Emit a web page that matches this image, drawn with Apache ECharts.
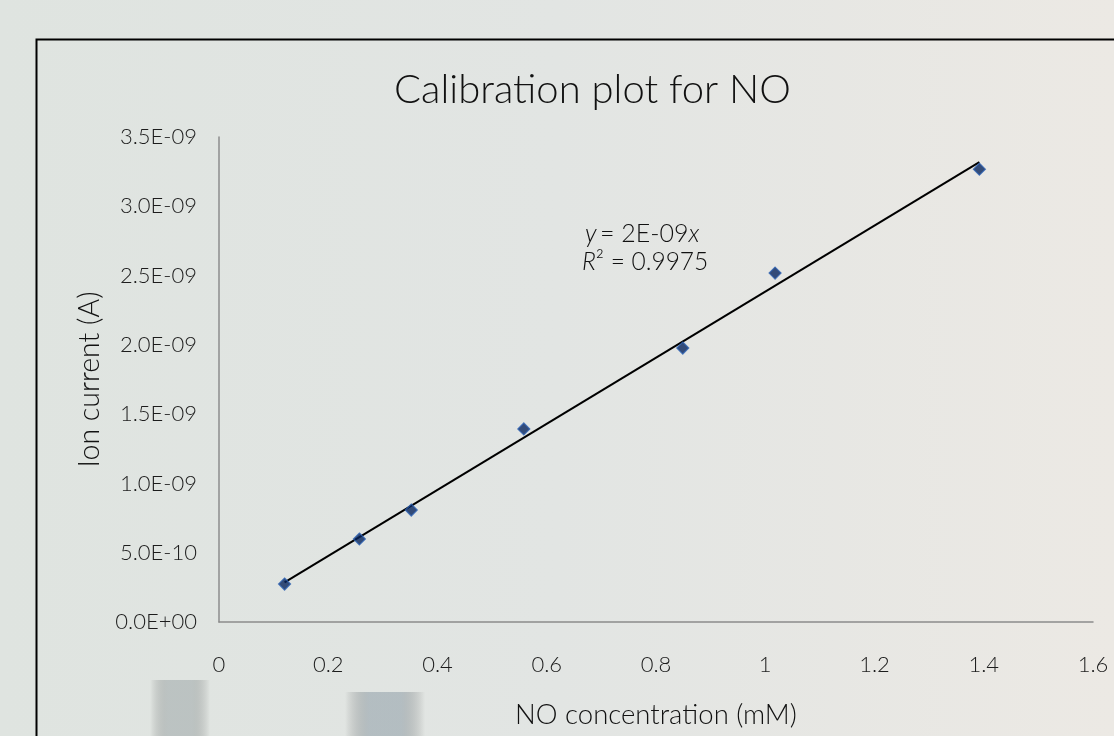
<!DOCTYPE html>
<html><head><meta charset="utf-8">
<script src="https://cdn.jsdelivr.net/npm/echarts@6/dist/echarts.min.js"></script>
<style>html,body{margin:0;padding:0;}#c{width:1114px;height:736px;}</style>
</head><body><div id="c"></div>
<script>
var concentration = [0.120, 0.257, 0.352, 0.558, 0.849, 1.018, 1.392];
var ionCurrent = [2.74e-10, 5.99e-10, 8.08e-10, 1.393e-9, 1.977e-9, 2.518e-9, 3.268e-9];
var xTicks = [0, 0.2, 0.4, 0.6, 0.8, 1, 1.2, 1.4, 1.6];
var yTicks = ['0.0E+00','5.0E-10','1.0E-09','1.5E-09','2.0E-09','2.5E-09','3.0E-09','3.5E-09'];

var points = concentration.map(function(x,i){return [x, ionCurrent[i]];});
// linear trendline through the origin (least squares)
var sxy=0,sxx=0;
for (var i=0;i<points.length;i++){sxy+=points[i][0]*points[i][1];sxx+=points[i][0]*points[i][0];}
var slope=sxy/sxx;
var xmin=Math.min.apply(null,concentration), xmax=Math.max.apply(null,concentration);
var trend=[[xmin,slope*xmin],[xmax,slope*xmax]];

var FONT='Lato';
var TXT='#1c1c1c';
function smudge(x,y,w,h,col){
  return {type:'rect',left:x,top:y,shape:{width:w,height:h},silent:true,z:-2,
    style:{fill:{type:'linear',x:0,y:0,x2:1,y2:0,colorStops:[
      {offset:0,color:'rgba(0,0,0,0)'},{offset:0.3,color:col},{offset:0.7,color:col},{offset:1,color:'rgba(0,0,0,0)'}]}}};
}
var chart=echarts.init(document.getElementById('c'));
chart.setOption({
  backgroundColor:{type:'linear',x:0,y:0,x2:1,y2:0,colorStops:[{offset:0,color:'#dfe4e0'},{offset:0.5,color:'#e2e5e3'},{offset:1,color:'#ece9e4'}]},
  animation:false,
  title:{text:'Calibration plot for NO',top:70,left:394,padding:0,
    textStyle:{fontFamily:FONT,fontWeight:300,fontSize:40,color:'#111'}},
  grid:{left:219,right:21,top:137,bottom:114,containLabel:false},
  xAxis:{type:'value',min:0,max:1.6,interval:0.2,
    axisLine:{lineStyle:{color:'#8c8c8c',width:1.5}},axisTick:{show:false},splitLine:{show:false},
    axisLabel:{margin:32,fontFamily:FONT,fontWeight:300,fontSize:22,color:TXT,
      formatter:function(v){return String(parseFloat(v.toFixed(1)));}},
    name:'NO concentration (mM)',nameLocation:'middle',nameGap:79,
    nameTextStyle:{fontFamily:FONT,fontWeight:300,fontSize:27.5,color:'#111'}},
  yAxis:{type:'value',min:0,max:3.5e-9,interval:5e-10,
    axisLine:{show:true,lineStyle:{color:'#8c8c8c',width:1.5}},axisTick:{show:false},splitLine:{show:false},
    axisLabel:{margin:22,fontFamily:FONT,fontWeight:300,fontSize:22,color:TXT,
      formatter:function(v){return yTicks[Math.round(v/5e-10)];}},
    name:'Ion current (A)',nameLocation:'middle',nameGap:114,nameRotate:90,
    nameTextStyle:{fontFamily:FONT,fontWeight:300,fontSize:28.5,color:'#111'}},
  series:[
    {type:'line',data:trend,symbol:'none',lineStyle:{color:'#000',width:2},z:3,silent:true},
    {type:'scatter',data:points,symbol:'diamond',symbolSize:12,
      itemStyle:{color:'#06245e',borderColor:'#2d62b3',borderWidth:1.2},z:4}
  ],
  graphic:[
    smudge(150,680,60,56,'rgba(120,132,136,0.35)'),
    smudge(345,692,80,44,'rgba(105,125,140,0.38)'),
    {type:'rect',left:34,top:37,shape:{width:1200,height:800},style:{fill:'none',stroke:'#000',lineWidth:2},z:-1,silent:true},
    {type:'text',left:585,top:221,style:{rich:{i:{fontFamily:FONT,fontWeight:300,fontStyle:'italic',fontSize:25,fill:'#111'},n:{fontFamily:FONT,fontWeight:300,fontSize:25,fill:'#111'}},
      text:'{i|y} {n|= 2E-09}{i|x}'},z:10},
    {type:'text',left:582,top:250,style:{rich:{i:{fontFamily:FONT,fontWeight:300,fontStyle:'italic',fontSize:24.5,fill:'#111'},n:{fontFamily:FONT,fontWeight:300,fontSize:24.5,fill:'#111'}},
      text:'{i|R}{n|² = 0.9975}'},z:10}
  ]
});
</script></body></html>
